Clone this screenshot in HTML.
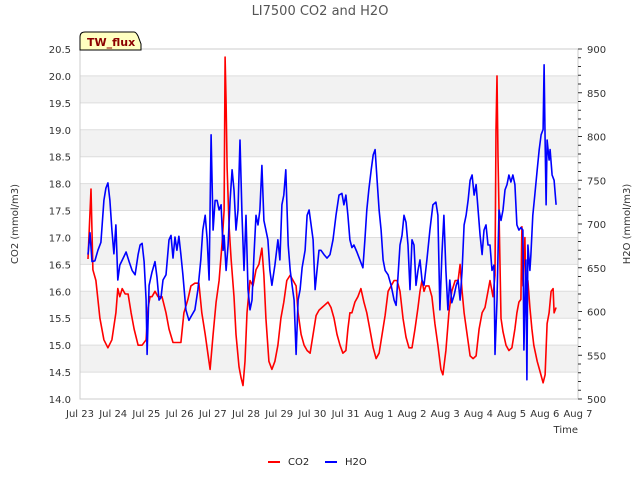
<!DOCTYPE html>
<html><head><meta charset="utf-8"><style>
body{margin:0;background:#fff;}
svg text{font-family:"DejaVu Sans","Liberation Sans",sans-serif;}
</style></head><body>
<svg id="chart" width="640" height="480" xmlns="http://www.w3.org/2000/svg">
<text x="320" y="15" text-anchor="middle" font-size="13" fill="#555">LI7500 CO2 and H2O</text>
<g id="grid"></g>
<rect x="80" y="49" width="498" height="350" fill="none" stroke="#ccc"/>
<g id="series"></g>
<g id="axes"></g>
<text transform="translate(18,224) rotate(-90)" text-anchor="middle" font-size="10" fill="#333">CO2 (mmol/m3)</text>
<text transform="translate(630,224) rotate(-90)" text-anchor="middle" font-size="10" fill="#333">H2O (mmol/m3)</text>
<text x="578" y="433" text-anchor="end" font-size="10" fill="#333">Time</text>
<g>
<path d="M80,50 L80,37 Q80,32 85,32 L134,32 Q136,32 138,36 L141,44 L141,50 Z" fill="#ffffc0" stroke="#000" stroke-width="1"/>
<text x="87" y="46" font-size="11" font-weight="bold" fill="#8b0000">TW_flux</text>
</g>
<g>
<line x1="268" y1="462" x2="280" y2="462" stroke="red" stroke-width="2"/>
<text x="288" y="465" font-size="10" fill="#222">CO2</text>
<line x1="325" y1="462" x2="337" y2="462" stroke="blue" stroke-width="2"/>
<text x="345" y="465" font-size="10" fill="#222">H2O</text>
</g>
</svg>
<script>
const xTickLabels=["Jul 23","Jul 24","Jul 25","Jul 26","Jul 27","Jul 28","Jul 29","Jul 30","Jul 31","Aug 1","Aug 2","Aug 3","Aug 4","Aug 5","Aug 6","Aug 7"];
const leftTicks=[14.0,14.5,15.0,15.5,16.0,16.5,17.0,17.5,18.0,18.5,19.0,19.5,20.0,20.5];
const rightTicks=[500,550,600,650,700,750,800,850,900];
// time = days since Jul 23 00:00
const co2Times=[0.24,0.33,0.39,0.48,0.60,0.72,0.84,0.96,1.08,1.14,1.20,1.27,1.36,1.45,1.54,1.63,1.75,1.87,1.99,2.05,2.11,2.17,2.26,2.35,2.47,2.59,2.68,2.80,2.92,3.04,3.13,3.25,3.34,3.46,3.58,3.67,3.77,3.86,3.92,4.01,4.10,4.19,4.28,4.34,4.37,4.40,4.43,4.49,4.55,4.64,4.70,4.79,4.85,4.91,4.97,5.03,5.12,5.21,5.30,5.39,5.48,5.54,5.60,5.69,5.78,5.87,5.96,6.05,6.14,6.23,6.33,6.42,6.51,6.57,6.66,6.75,6.84,6.93,7.02,7.11,7.20,7.29,7.38,7.47,7.56,7.65,7.74,7.83,7.92,8.01,8.07,8.13,8.19,8.28,8.37,8.46,8.55,8.64,8.73,8.83,8.92,9.01,9.10,9.19,9.28,9.37,9.46,9.55,9.64,9.73,9.82,9.91,10.00,10.09,10.18,10.24,10.30,10.36,10.42,10.51,10.60,10.69,10.78,10.87,10.93,11.02,11.11,11.20,11.30,11.39,11.45,11.51,11.57,11.66,11.75,11.84,11.93,12.02,12.11,12.20,12.26,12.35,12.44,12.50,12.53,12.56,12.59,12.65,12.68,12.74,12.83,12.92,13.01,13.10,13.16,13.22,13.28,13.31,13.34,13.40,13.43,13.49,13.55,13.61,13.67,13.77,13.86,13.95,14.01,14.07,14.13,14.19,14.25,14.28,14.34];
const co2Values=[16.6,17.9,16.4,16.2,15.5,15.1,14.95,15.1,15.6,16.05,15.9,16.05,15.95,15.95,15.6,15.3,15.0,15.0,15.1,15.7,15.9,15.9,16.0,15.9,15.9,15.6,15.3,15.05,15.05,15.05,15.6,15.85,16.1,16.15,16.15,15.6,15.2,14.8,14.55,15.2,15.8,16.2,16.9,17.5,20.35,19.5,18.3,17.2,16.6,15.9,15.2,14.6,14.4,14.25,14.7,15.6,16.2,16.1,16.4,16.5,16.8,16.3,15.5,14.7,14.55,14.7,15.0,15.5,15.8,16.2,16.3,16.2,16.1,15.6,15.2,15.0,14.9,14.85,15.2,15.55,15.65,15.7,15.75,15.8,15.7,15.5,15.2,15.0,14.85,14.9,15.3,15.6,15.6,15.8,15.9,16.05,15.8,15.6,15.3,14.95,14.75,14.85,15.2,15.55,16.0,16.1,16.2,16.2,16.0,15.5,15.15,14.95,14.95,15.3,15.7,16.0,16.2,16.0,16.1,16.1,15.9,15.4,15.0,14.55,14.45,14.9,15.6,16.0,16.2,16.2,16.5,16.0,15.6,15.2,14.8,14.75,14.8,15.3,15.6,15.7,15.9,16.2,15.9,16.3,19.0,20.0,18.5,16.5,15.5,15.25,15.0,14.9,14.95,15.3,15.6,15.8,15.85,17.2,16.1,17.0,16.0,16.2,15.7,15.3,15.0,14.7,14.5,14.3,14.45,15.4,15.6,16.0,16.05,15.6,15.7];
const h2oTimes=[0.24,0.30,0.36,0.45,0.54,0.63,0.72,0.78,0.84,0.90,0.96,1.02,1.08,1.14,1.20,1.30,1.39,1.48,1.57,1.66,1.75,1.81,1.87,1.93,1.99,2.02,2.08,2.17,2.26,2.32,2.38,2.44,2.50,2.59,2.68,2.74,2.80,2.86,2.92,2.98,3.04,3.10,3.19,3.28,3.37,3.46,3.55,3.64,3.70,3.77,3.83,3.89,3.95,4.01,4.07,4.13,4.19,4.25,4.31,4.34,4.40,4.46,4.52,4.58,4.64,4.70,4.76,4.82,4.88,4.94,5.00,5.06,5.12,5.18,5.24,5.30,5.36,5.42,5.48,5.54,5.60,5.66,5.72,5.78,5.87,5.96,6.02,6.08,6.14,6.20,6.27,6.33,6.39,6.45,6.51,6.57,6.63,6.69,6.78,6.84,6.90,6.96,7.02,7.08,7.14,7.20,7.26,7.35,7.44,7.53,7.62,7.71,7.80,7.89,7.95,8.01,8.07,8.13,8.19,8.25,8.34,8.43,8.52,8.58,8.64,8.70,8.77,8.83,8.89,8.95,9.01,9.07,9.13,9.19,9.28,9.37,9.46,9.52,9.58,9.64,9.70,9.76,9.82,9.88,9.94,10.00,10.06,10.12,10.18,10.24,10.30,10.36,10.45,10.54,10.63,10.72,10.78,10.84,10.90,10.96,11.02,11.08,11.14,11.20,11.27,11.33,11.39,11.45,11.51,11.57,11.63,11.69,11.75,11.81,11.87,11.93,11.99,12.05,12.11,12.17,12.23,12.29,12.35,12.41,12.47,12.50,12.56,12.62,12.68,12.74,12.80,12.86,12.92,12.98,13.04,13.10,13.16,13.22,13.28,13.34,13.37,13.43,13.46,13.49,13.55,13.58,13.64,13.70,13.77,13.83,13.89,13.95,13.98,14.01,14.04,14.07,14.13,14.16,14.22,14.28,14.34];
const h2oValues=[665,690,657,658,670,679,727,741,747,727,693,666,699,636,653,661,668,657,647,642,665,676,678,657,613,551,630,645,657,639,613,616,636,642,682,687,661,685,670,686,665,642,602,590,596,602,625,659,693,710,682,636,802,693,727,727,716,722,670,687,647,676,727,762,739,693,716,796,710,647,710,625,602,613,665,710,699,716,767,704,693,682,647,630,653,682,659,722,733,762,676,647,630,613,551,613,625,650,670,710,716,699,682,625,647,670,670,665,661,665,682,710,733,735,722,733,710,682,673,676,668,659,650,682,716,739,762,779,785,750,716,693,659,647,642,630,613,607,642,676,687,710,702,676,625,682,676,630,647,659,636,630,659,693,722,725,710,602,665,710,647,602,636,610,619,630,636,613,647,699,710,727,750,756,733,745,716,687,665,693,699,676,676,647,653,551,613,716,704,716,739,745,756,748,756,745,699,693,696,693,556,659,522,676,647,665,710,733,762,785,802,808,882,796,722,796,773,785,756,750,722];

const X0=80,X1=578,Y0=399,Y1=49;
const xScale=d=>X0+d*(X1-X0)/15;
const yL=v=>Y0-(v-14)*(Y0-Y1)/6.5;
const yR=v=>Y0-(v-500)*(Y0-Y1)/400;
const NS="http://www.w3.org/2000/svg";
function mk(tag,parent){const e=document.createElementNS(NS,tag);parent.appendChild(e);return e;}
const grid=document.getElementById('grid'),axes=document.getElementById('axes'),series=document.getElementById('series');
for(let i=0;i<leftTicks.length-1;i++){
  if(i%2===1){
    const r=mk('rect',grid);
    
    
    r.setAttribute('x',X0);r.setAttribute('y',yL(leftTicks[i+1]));r.setAttribute('width',X1-X0);r.setAttribute('height',yL(leftTicks[i])-yL(leftTicks[i+1]));r.setAttribute('fill','#f2f2f2');
  }
}
leftTicks.forEach(v=>{
  const l=mk('line',grid);
  
  
  l.setAttribute('x1',X0);l.setAttribute('x2',X1);l.setAttribute('y1',yL(v));l.setAttribute('y2',yL(v));l.setAttribute('stroke','#ddd');
  const t=mk('text',axes);
  
  
  t.setAttribute('x',X0-9);t.setAttribute('y',yL(v)+4);t.setAttribute('text-anchor','end');t.setAttribute('font-size','10');t.setAttribute('fill','#333');
  t.textContent=v.toFixed(1);
});
rightTicks.forEach(v=>{
  const t=mk('text',axes);
  
  
  t.setAttribute('x',X1+9);t.setAttribute('y',yR(v)+4);t.setAttribute('font-size','10');t.setAttribute('fill','#333');
  t.textContent=v;
});
for(let v=500;v<=900;v+=10){
  const l=mk('line',axes);
  
  
  l.setAttribute('x1',X1);l.setAttribute('x2',X1+(v%50===0?4:3));l.setAttribute('y1',yR(v));l.setAttribute('y2',yR(v));l.setAttribute('stroke','#333');
}
xTickLabels.forEach((s,i)=>{
  const t=mk('text',axes);
  
  
  t.setAttribute('x',xScale(i));t.setAttribute('y',Y0+18);t.setAttribute('text-anchor','middle');t.setAttribute('font-size','10');t.setAttribute('fill','#333');
  t.textContent=s;
});
function line(times,vals,ys,color,name){
  const p=mk('polyline',series);
  
  
  p.setAttribute('points',times.map((t,i)=>xScale(t).toFixed(1)+','+ys(vals[i]).toFixed(1)).join(' '));
  p.setAttribute('fill','none');p.setAttribute('stroke',color);p.setAttribute('stroke-width','1.6');p.setAttribute('stroke-linejoin','round');
}
line(co2Times,co2Values,yL,'red','co2-line');
line(h2oTimes,h2oValues,yR,'blue','h2o-line');
</script>
</body></html>
